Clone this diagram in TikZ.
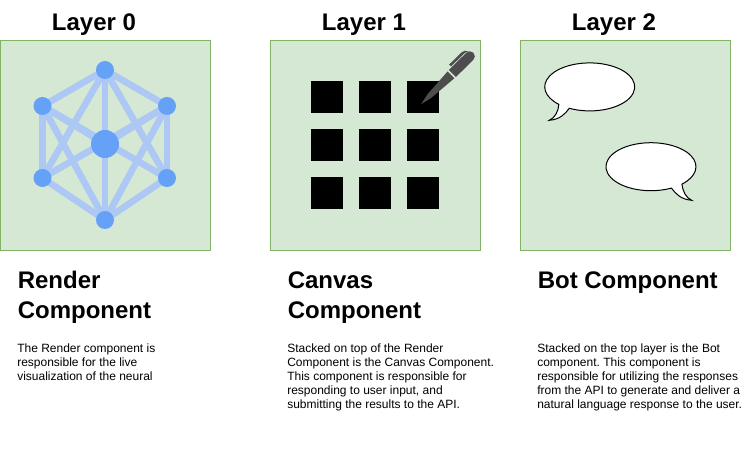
\documentclass[tikz,border=0pt]{standalone}
\usepackage{fontspec}
\setmainfont{Liberation Sans}
\frenchspacing
\definecolor{boxFill}{HTML}{D5E8D4}
\definecolor{boxLine}{HTML}{82B366}
\definecolor{netNode}{HTML}{66A1F8}
\definecolor{netLine}{HTML}{ADC8F4}
\definecolor{penGray}{HTML}{4D4D4D}
\pgfdeclarelayer{backLayer}
\pgfsetlayers{backLayer,main}
\begin{document}
\begin{tikzpicture}
[x=0.75pt,y=0.75pt,
  layerBox/.style={shape=rectangle,draw=boxLine,fill=boxFill,line width=0.75pt,
    minimum width=157.5pt,minimum height=157.5pt,inner sep=0pt},%
  layerTitle/.style={font=\bfseries\fontsize{18}{21}\selectfont},%
  compTitle/.style={anchor=north west,inner sep=0pt,align=left,
    font=\bfseries\fontsize{18}{22.5}\selectfont},%
  compText/.style={anchor=north west,inner sep=0pt,align=left,
    font=\fontsize{9}{10.5}\selectfont},%
  netDecorate/.style={shape=circle,fill=netNode,inner sep=0pt,minimum size=13.5pt},%
  lineDecorate/.style={-,line width=5pt,draw=netLine},%
  cellDecorate/.style={shape=rectangle,fill=black,inner sep=0pt,minimum size=24pt},%
  bubble/.style={draw=black,fill=white,line width=0.75pt}]
\useasboundingbox (0,0) rectangle (751,453);
%% layer boxes and titles
\begin{pgfonlayer}{backLayer}
\foreach \boxname/\x/\tx/\label in {
  render/105.5/94/Layer 0, canvas/375.5/364/Layer 1, bot/625.5/614/Layer 2}
{
  \node (\boxname) at (\x,307.5) [layerBox] {};
  \node (\boxname title) at (\tx,428.5) [layerTitle] {\label};
}
\end{pgfonlayer}
%% network nodes
\foreach \nodename/\x/\y in {
  top/105/383, ul/42.5/347, ur/167/347, ll/42.5/275, lr/167/275, bottom/105/233}
{
  \node (\nodename) at (\x,\y) [netDecorate] {};
}
\node (center) at (105,309) [netDecorate,minimum size=21pt] {};
%% network edges
\begin{pgfonlayer}{backLayer}
\path
\foreach \startnode/\endnode in {
  top/ul, top/ur, top/center, top/ll, top/lr, ul/ll, ul/center, ul/lr, ul/bottom,
  ur/lr, ur/center, ur/ll, ur/bottom, ll/bottom, lr/bottom, center/bottom}
{
  (\startnode.center) edge[lineDecorate] (\endnode.center)
};
\end{pgfonlayer}
%% canvas cells
\foreach \cellname/\x/\y in {
  a/327/356, b/375/356, c/423/356,
  d/327/308, e/375/308, f/423/308,
  g/327/260, h/375/260, i/423/260}
{
  \node (\cellname) at (\x,\y) [cellDecorate] {};
}
%% pen
\begin{scope}[shift={(421,348.7)},rotate=44.5]
  \fill[penGray] (0,0) -- (12,-2.6) -- (42,-4.8) -- (42,4.8) -- (12,2.6) -- cycle;
  \fill[penGray] (44,-5) -- (68.5,-5) arc[start angle=-90,end angle=90,radius=5]
    -- (44,5) -- cycle;
  \fill[penGray] (48,6) -- (66,6) .. controls (68,6) and (70,5.5) .. (71,4)
    .. controls (70.5,7) and (68,8.6) .. (65,8.6) -- (48,8.6) -- cycle;
\end{scope}
%% speech bubbles
\draw[bubble] (569.3,344.7) arc[start angle=243,end angle=586.6,x radius=45,y radius=24]
  .. controls (558.5,342) and (555,335) .. (549.3,332.7)
  .. controls (560,333.5) and (565,339) .. cycle;
\draw[bubble] (671.4,264.9) arc[start angle=-63,end angle=-406.6,x radius=45,y radius=24]
  .. controls (682.7,262) and (686,255) .. (691.7,252.7)
  .. controls (681,253.5) and (676,259) .. cycle;
%% component descriptions
\node (renderhead) at (17.5,182) [compTitle] {Render\\Component};
\node (canvashead) at (287.5,182) [compTitle] {Canvas\\Component};
\node (bothead) at (537.5,182) [compTitle] {Bot Component};
\node (rendertext) at (17,109.5) [compText] {The Render component is\\responsible for the live\\visualization of the neural};
\node (canvastext) at (287,109.5) [compText] {Stacked on top of the Render\\Component is the Canvas Component.\\This component is responsible for\\responding to user input, and\\submitting the results to the API.};
\node (bottext) at (537,109.5) [compText] {Stacked on the top layer is the Bot\\component. This component is\\responsible for utilizing the responses\\from the API to generate and deliver a\\natural language response to the user.};
\end{tikzpicture}
\end{document}
